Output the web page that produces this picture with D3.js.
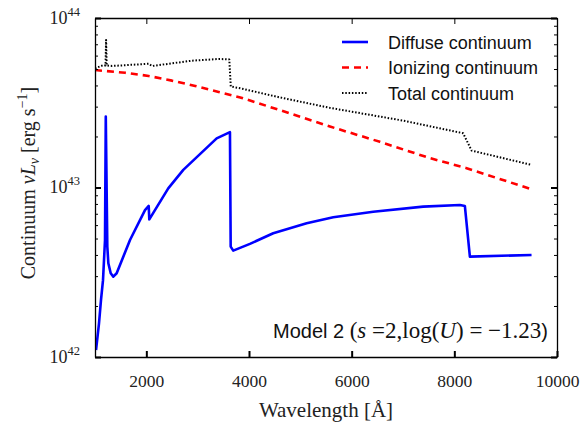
<!DOCTYPE html>
<html>
<head>
<meta charset="utf-8">
<script src="https://cdn.jsdelivr.net/npm/d3@7"></script>
<style>
  body { margin: 0; background: #fff; }
  svg { display: block; }
  .serif { font-family: "Liberation Serif", "Times New Roman", serif; }
  .sans { font-family: "Liberation Sans", Arial, sans-serif; }
</style>
</head>
<body>
<svg id="chart"></svg>
<script>
// wavelengths in Angstrom, luminosities in units of 1e43 erg/s
const diffuseWave = [1020, 1078, 1117, 1156, 1195, 1210, 1240, 1260, 1306, 1357, 1422, 1682, 1974, 2046, 2058, 2427, 2720, 3370, 3629, 3643, 3693, 4018, 4472, 5123, 5641, 6420, 7394, 8108, 8205, 8303, 9504];
const diffuseLum = [0.110, 0.158, 0.217, 0.284, 0.490, 2.62, 0.448, 0.357, 0.312, 0.298, 0.312, 0.490, 0.736, 0.778, 0.649, 0.989, 1.27, 1.95, 2.12, 0.448, 0.424, 0.465, 0.537, 0.615, 0.667, 0.719, 0.771, 0.789, 0.778, 0.391, 0.400];

const ionizingWave = [1000, 1590, 2046, 2500, 2953, 3409, 3830, 4603, 5576, 6550, 7524, 8239, 9500];
const ionizingLum = [4.93, 4.75, 4.55, 4.27, 3.97, 3.66, 3.40, 2.86, 2.29, 1.86, 1.49, 1.30, 0.977];

const totalWave = [1000, 1169, 1205, 1216, 1228, 1331, 2045, 2110, 2889, 3409, 3616, 3645, 3830, 4603, 5576, 7004, 8172, 8336, 9504];
const totalLum = [5.05, 5.28, 5.25, 7.41, 5.25, 5.21, 5.37, 5.21, 5.60, 5.73, 5.70, 3.94, 3.85, 3.40, 2.95, 2.48, 2.09, 1.65, 1.36];

const xTicks = [2000, 4000, 6000, 8000, 10000];
const yMajor = [1e42, 1e43, 1e44];
const yExponents = ["42", "43", "44"];

const seriesNames = ["Diffuse continuum", "Ionizing continuum", "Total continuum"];

const width = 581, height = 426;
const margin = { top: 18, right: 24, bottom: 69, left: 95 };

const svg = d3.select("#chart").attr("width", width).attr("height", height);

const x = d3.scaleLinear().domain([1000, 10000]).range([margin.left, width - margin.right]);
const y = d3.scaleLog().domain([1e42, 1e44]).range([height - margin.bottom, margin.top]);

// clip for the curves
svg.append("defs").append("clipPath").attr("id", "plot-clip")
  .append("rect")
  .attr("x", margin.left).attr("y", margin.top)
  .attr("width", x.range()[1] - margin.left)
  .attr("height", y.range()[0] - margin.top);

const toPts = (w, l) => w.map((d, i) => [d, l[i] * 1e43]);
const line = d3.line().x(d => x(d[0])).y(d => y(d[1]));

const series = [
  { name: seriesNames[0], pts: toPts(diffuseWave, diffuseLum), color: "#0000ff", width: 2.6, dash: null },
  { name: seriesNames[1], pts: toPts(ionizingWave, ionizingLum), color: "#ff0000", width: 2.6, dash: "7,5" },
  { name: seriesNames[2], pts: toPts(totalWave, totalLum), color: "#000000", width: 2, dash: "1.5,1.8" }
];

svg.append("g").attr("clip-path", "url(#plot-clip)")
  .selectAll("path")
  .data(series)
  .enter()
  .append("path")
  .attr("d", d => line(d.pts))
  .attr("fill", "none")
  .attr("stroke", d => d.color)
  .attr("stroke-width", d => d.width)
  .attr("stroke-dasharray", d => d.dash)
  .attr("stroke-linejoin", "round");

// axes, ticks pointing inwards
const allY = y.ticks();
const isMajor = v => yMajor.some(m => Math.abs(m - v) / m < 1e-6);

const bottom = svg.append("g")
  .attr("transform", `translate(0, ${y.range()[0]})`)
  .call(d3.axisBottom(x).tickValues(xTicks).tickFormat(d3.format("d"))
    .tickSizeInner(-6).tickSizeOuter(0).tickPadding(17.5));
bottom.selectAll("text").attr("class", "serif").style("font-size", "17.5px").attr("fill", "#222");

svg.append("g")
  .attr("transform", `translate(0, ${margin.top})`)
  .call(d3.axisTop(x).tickValues(xTicks).tickSizeInner(-6).tickSizeOuter(0).tickFormat(""));

const left = svg.append("g")
  .attr("transform", `translate(${margin.left}, 0)`)
  .call(d3.axisLeft(y).tickValues(allY).tickSizeInner(-6).tickSizeOuter(0).tickFormat(""));
left.selectAll(".tick line").attr("x2", d => isMajor(d) ? 6 : 3).attr("stroke-width", d => isMajor(d) ? 2 : 1);

const right = svg.append("g")
  .attr("transform", `translate(${x.range()[1]}, 0)`)
  .call(d3.axisRight(y).tickValues(allY).tickSizeInner(-6).tickSizeOuter(0).tickFormat(""));
right.selectAll(".tick line").attr("x2", d => isMajor(d) ? -6 : -3).attr("stroke-width", d => isMajor(d) ? 2 : 1);

svg.selectAll(".domain").attr("stroke", "#000").attr("stroke-width", 1.3);
bottom.selectAll(".tick line").attr("stroke-width", 2);
svg.selectAll(".tick line").attr("stroke", "#000");

// y tick labels 10^n
yMajor.forEach((v, i) => {
  const t = svg.append("text").attr("class", "serif")
    .attr("x", 80).attr("y", y(v) + 5.5)
    .attr("text-anchor", "end").attr("fill", "#222")
    .style("font-size", "18px");
  t.append("tspan").text("10");
  t.append("tspan").attr("dy", -8).style("font-size", "12.5px").text(yExponents[i]);
});

// axis titles
svg.append("text").attr("class", "serif")
  .attr("x", (margin.left + x.range()[1]) / 2).attr("y", 417)
  .attr("text-anchor", "middle").attr("fill", "#222")
  .style("font-size", "21px")
  .text("Wavelength [Å]");

const yl = svg.append("text").attr("class", "serif")
  .attr("transform", `translate(35, 183) rotate(-90)`)
  .attr("text-anchor", "middle").attr("fill", "#222")
  .style("font-size", "20px");
yl.append("tspan").text("Continuum ");
yl.append("tspan").style("font-style", "italic").text("νL");
yl.append("tspan").attr("dy", 4).style("font-style", "italic").style("font-size", "14px").text("ν");
yl.append("tspan").attr("dy", -4).text(" [erg s");
yl.append("tspan").attr("dy", -8).style("font-size", "14px").text("−1");
yl.append("tspan").attr("dy", 8).text("]");

// legend
const legend = svg.selectAll(".legend")
  .data(series)
  .enter()
  .append("g")
  .attr("class", "legend")
  .attr("transform", (d, i) => `translate(342, ${42 + i * 25.5})`);

legend.append("line")
  .attr("x1", 0).attr("x2", 26)
  .attr("stroke", d => d.color)
  .attr("stroke-width", d => d.width)
  .attr("stroke-dasharray", d => d.dash);

legend.append("text").attr("class", "sans")
  .attr("x", 46).attr("y", 6.5)
  .style("font-size", "18px").attr("fill", "#111")
  .text(d => d.name);

// annotation
const ann = svg.append("text")
  .attr("x", 548).attr("y", 338)
  .attr("text-anchor", "end").attr("fill", "#111");
ann.append("tspan").attr("class", "sans").style("font-size", "20px").text("Model 2 ");
ann.append("tspan").attr("class", "serif").style("font-size", "23px").text("(");
ann.append("tspan").attr("class", "serif").style("font-size", "23px").style("font-style", "italic").text("s");
ann.append("tspan").attr("class", "serif").style("font-size", "23px").text(" =2,log(");
ann.append("tspan").attr("class", "serif").style("font-size", "23px").style("font-style", "italic").text("U");
ann.append("tspan").attr("class", "serif").style("font-size", "23px").text(") = −1.23");
ann.append("tspan").attr("class", "sans").style("font-size", "20px").text(")");
</script>
</body>
</html>
